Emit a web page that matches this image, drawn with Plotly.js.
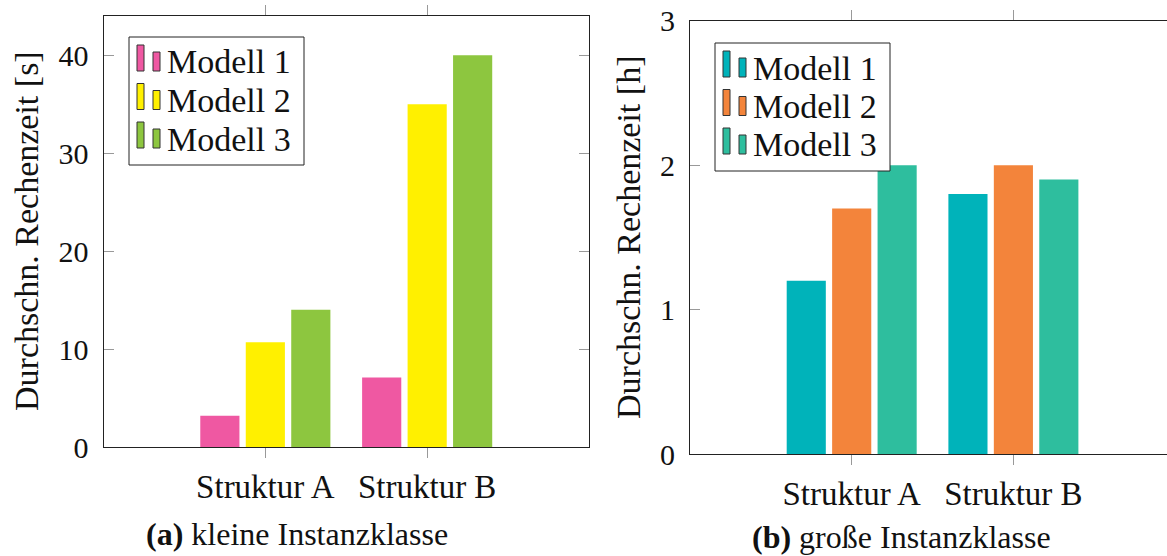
<!DOCTYPE html>
<html>
<head>
<meta charset="utf-8">
<script src="https://cdn.plot.ly/plotly-3.0.1.min.js"></script>
<style>html,body{margin:0;padding:0;background:#fff;}#chart{width:1167px;height:556px;}</style>
</head>
<body>
<div id="chart"></div>
<script>
// ---- data ----
const categories = ['Struktur A', 'Struktur B'];
const seriesNames = ['Modell 1', 'Modell 2', 'Modell 3'];

// (a) kleine Instanzklasse, seconds
const kleinModell1 = [3.2, 7.1];
const kleinModell2 = [10.7, 35];
const kleinModell3 = [14, 40];
// (b) große Instanzklasse, hours
const grossModell1 = [1.2, 1.8];
const grossModell2 = [1.7, 2.0];
const grossModell3 = [2.0, 1.9];

const kleinColors = ['#EF58A2', '#FFF000', '#8DC63F'];
const grossColors = ['#00B3BA', '#F3843B', '#2EBE9E'];

const kleinTicks = [0, 10, 20, 30, 40];
const grossTicks = [0, 1, 2, 3];

const captionA = '<b>(a)</b> kleine Instanzklasse';
const captionB = '<b>(b)</b> große Instanzklasse';
const yTitleA = 'Durchschn. Rechenzeit [s]';
const yTitleB = 'Durchschn. Rechenzeit [h]';

// ---- layout helpers ----
const W = 1167, H = 556;
const px = v => v / W;
const py = v => 1 - v / H;
const FONT = 'Liberation Serif';

const kleinSeries = [kleinModell1, kleinModell2, kleinModell3];
const grossSeries = [grossModell1, grossModell2, grossModell3];

const traces = [];
seriesNames.forEach((n, i) => {
  traces.push({type: 'bar', name: n, x: categories, y: kleinSeries[i], xaxis: 'x', yaxis: 'y',
    marker: {color: kleinColors[i], line: {width: 0}}, showlegend: false, hoverinfo: 'skip'});
});
seriesNames.forEach((n, i) => {
  traces.push({type: 'bar', name: n, x: categories, y: grossSeries[i], xaxis: 'x2', yaxis: 'y2',
    marker: {color: grossColors[i], line: {width: 0}}, showlegend: false, hoverinfo: 'skip'});
});

const lineCol = '#222';
const tickCol = '#999';

function xAxis(domain, range) {
  return {domain, range, type: 'category', showgrid: false, zeroline: false,
    showline: true, linecolor: lineCol, linewidth: 1, mirror: 'ticks',
    ticks: 'outside', ticklen: 10, tickcolor: tickCol, tickwidth: 1,
    tickfont: {family: FONT, size: 33, color: '#111'}, automargin: false, fixedrange: true};
}
function yAxis(domain, range, ticks, mirror, anchor) {
  return {domain, range, anchor, showgrid: false, zeroline: false,
    showline: true, linecolor: lineCol, linewidth: 1, mirror,
    ticks: 'inside', ticklen: 10, tickcolor: tickCol, tickwidth: 1,
    tickvals: ticks, ticktext: ticks.map(String), ticklabelstandoff: 8,
    tickfont: {family: FONT, size: 30, color: '#111'},
    automargin: false, fixedrange: true};
}

const shapes = [];
const annotations = [];

function addLegend(dx, dy, colors) {
  shapes.push({type: 'rect', xref: 'paper', yref: 'paper',
    x0: px(129 + dx), x1: px(304 + dx), y0: py(37 + dy), y1: py(165 + dy),
    line: {color: '#222', width: 1}, fillcolor: 'rgba(255,255,255,1)', layer: 'above'});
  seriesNames.forEach((n, i) => {
    const cy = 62 + i * 38.5 + dy;
    shapes.push({type: 'rect', xref: 'paper', yref: 'paper',
      x0: px(137 + dx), x1: px(144 + dx), y0: py(cy - 17), y1: py(cy + 9),
      line: {color: '#333', width: 1}, fillcolor: colors[i], layer: 'above'});
    shapes.push({type: 'rect', xref: 'paper', yref: 'paper',
      x0: px(153 + dx), x1: px(160 + dx), y0: py(cy - 10), y1: py(cy + 9),
      line: {color: '#333', width: 1}, fillcolor: colors[i], layer: 'above'});
    annotations.push({xref: 'paper', yref: 'paper', x: px(165 + dx), y: py(cy),
      xanchor: 'left', yanchor: 'middle', showarrow: false, text: n,
      font: {family: FONT, size: 34, color: '#111'}});
  });
}
addLegend(0, 0, kleinColors);
addLegend(586, 6, grossColors);

// axis titles (rotated)
annotations.push({xref: 'paper', yref: 'paper', x: px(26), y: py(231), xanchor: 'center', yanchor: 'middle',
  textangle: -90, showarrow: false, text: yTitleA, font: {family: FONT, size: 34, color: '#111'}});
annotations.push({xref: 'paper', yref: 'paper', x: px(628), y: py(238), xanchor: 'center', yanchor: 'middle',
  textangle: -90, showarrow: false, text: yTitleB, font: {family: FONT, size: 34, color: '#111'}});

annotations.push({xref: 'paper', yref: 'paper', x: px(297), y: py(534), xanchor: 'center', yanchor: 'middle',
  showarrow: false, text: captionA, font: {family: FONT, size: 32, color: '#111'}});
annotations.push({xref: 'paper', yref: 'paper', x: px(901), y: py(537), xanchor: 'center', yanchor: 'middle',
  showarrow: false, text: captionB, font: {family: FONT, size: 32, color: '#111'}});

const layout = {
  width: W, height: H,
  margin: {l: 0, r: 0, t: 0, b: 0, pad: 0},
  paper_bgcolor: '#fff', plot_bgcolor: '#fff',
  font: {family: FONT},
  barmode: 'group', bargap: 0.157, bargroupgap: 0.139,
  showlegend: false,
  xaxis: Object.assign(xAxis([px(103.5), px(589)], [-1, 2]), {anchor: 'y'}),
  yaxis: yAxis([py(447), py(16)], [0, 44], kleinTicks, 'ticks', 'x'),
  xaxis2: Object.assign(xAxis([px(690), 1], [-1, 1.95]), {anchor: 'y2'}),
  yaxis2: yAxis([py(454), py(20.7)], [0, 3], grossTicks, false, 'x2'),
  yaxis3: {overlaying: 'y2', anchor: 'x2', side: 'right', range: [0, 3], tickvals: grossTicks,
    showticklabels: false, showline: false, showgrid: false, zeroline: false,
    ticks: 'inside', ticklen: 3, tickcolor: tickCol, fixedrange: true},
  shapes, annotations
};

Plotly.newPlot('chart', traces, layout, {staticPlot: true, displayModeBar: false});
</script>
</body>
</html>
